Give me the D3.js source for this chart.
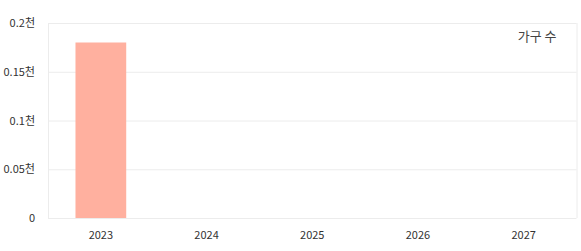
<!DOCTYPE html>
<html><head><meta charset="utf-8">
<script src="https://cdn.jsdelivr.net/npm/d3@7"></script>
<style>body{margin:0;background:#fff;}svg{display:block;font-family:"Noto Sans CJK KR","Noto Sans",sans-serif;}</style>
</head><body><svg id="c" width="581" height="251"></svg>
<script>
const categories = ["2023","2024","2025","2026","2027"];
const values = [180, null, null, null, null];
const yTicks = [0, 50, 100, 150, 200];
const yTickLabels = ["0","0.05천","0.1천","0.15천","0.2천"];
const seriesName = "가구 수";

const svg = d3.select("#c");
const m = {l:48, r:4.5, t:23, b:33};
const W = 581, H = 251;
const x = d3.scaleBand().domain(categories).range([m.l, W-m.r]).paddingInner(0.52).paddingOuter(0.26);
const y = d3.scaleLinear().domain([0,200]).range([H-m.b, m.t]);

// grid
svg.append("g").selectAll("line").data(yTicks).join("line")
  .attr("x1", m.l).attr("x2", W-m.r).attr("y1", d=>y(d)+0.5).attr("y2", d=>y(d)+0.5)
  .attr("stroke", "#ececec");
svg.append("line").attr("x1", m.l+0.5).attr("x2", m.l+0.5).attr("y1", m.t).attr("y2", H-m.b).attr("stroke","#ececec");
svg.append("line").attr("x1", W-m.r+0.5).attr("x2", W-m.r+0.5).attr("y1", m.t).attr("y2", H-m.b).attr("stroke","#ececec");

// bars
svg.append("g").selectAll("rect").data(categories.map((c,i)=>({c, v:values[i]})).filter(d=>d.v!=null)).join("rect")
  .attr("x", d=>x(d.c)).attr("width", x.bandwidth())
  .attr("y", d=>y(d.v)).attr("height", d=>y(0)-y(d.v))
  .attr("fill", "#ffb09f");

// y axis
const ya = d3.axisLeft(y).tickValues(yTicks).tickFormat((d,i)=>yTickLabels[i]).tickSize(0).tickPadding(13);
svg.append("g").attr("transform",`translate(${m.l},0)`).call(ya)
  .call(g=>g.select(".domain").remove())
  .call(g=>g.selectAll("text").attr("fill","#333").style("font-size","11px").style("font-family","'Noto Sans CJK KR',sans-serif"));

// x axis
const xa = d3.axisBottom(x).tickSize(0).tickPadding(13);
svg.append("g").attr("transform",`translate(0,${H-m.b})`).call(xa)
  .call(g=>g.select(".domain").remove())
  .call(g=>g.selectAll("text").attr("fill","#333").style("font-size","11px").style("font-family","'Noto Sans CJK KR',sans-serif"));

// legend
svg.append("text").attr("x", W-m.r-20).attr("y", 40.5).attr("text-anchor","end")
  .attr("fill","#444").style("font-size","13px").text(seriesName);
</script></body></html>
